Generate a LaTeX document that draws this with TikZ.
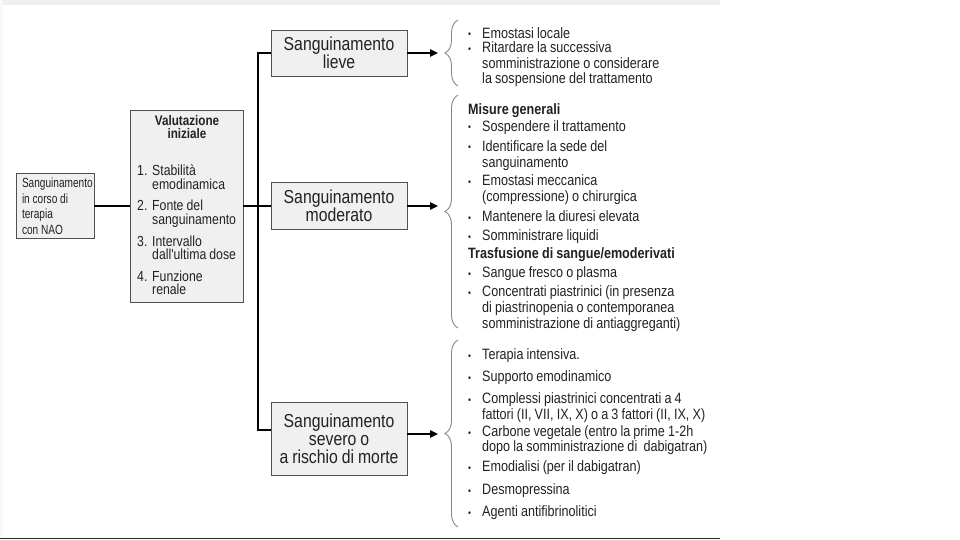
\documentclass[tikz,border=0pt]{standalone}
\usepackage{fontspec}
\setmainfont{Liberation Sans}
\newfontfamily\sq[FakeStretch=0.84,WordSpace=0.9]{Liberation Sans}
\newfontfamily\sqq[FakeStretch=0.76]{Liberation Sans}
\usetikzlibrary{arrows.meta,decorations.pathreplacing}
\definecolor{boxfill}{HTML}{F0F0F0}
\definecolor{boxdraw}{HTML}{505050}
\definecolor{txt}{HTML}{222222}
\definecolor{bracec}{HTML}{858585}
\newcommand{\sbul}{\makebox[14pt][l]{\raisebox{0.5pt}{\fontsize{10}{10}\selectfont\textbullet}}}
\newcommand{\ind}{\hspace*{14pt}}
\newcommand{\nind}{\hspace*{15pt}}
\newcommand{\nm}[1]{\makebox[15pt][l]{#1}}
\newcommand{\sps}{\hspace{2.8pt}}
\begin{document}
\begin{tikzpicture}[x=1pt,y=-1pt,
  box/.style={draw=boxdraw, fill=boxfill, line width=0.9pt, inner sep=0pt, text=txt},
  midbox/.style={box, minimum width=136pt, align=center, font=\sq\fontsize{18.8}{18}\selectfont},
  bus/.style={line width=2.4pt, black},
  arr/.style={line width=1.5pt, black, -{Triangle[length=8pt,width=7.5pt]}},
  brc/.style={draw=bracec, line width=0.9pt, decorate, decoration={brace, amplitude=13pt}},
  lst/.style={anchor=base west, align=left, inner sep=0pt, text=txt, font=\sq\fontsize{15}{16}\selectfont},
  vtxt/.style={anchor=base west, align=left, inner sep=0pt, text=txt, font=\sq\fontsize{14.6}{13.5}\selectfont},
]
\useasboundingbox (0,0) rectangle (960,540);
\fill[gray!12] (0,0) rectangle (720,5);
\fill[gray!5] (0,0) rectangle (3,536);
\draw[line width=1.2pt, black!85] (0,538.5) -- (720,538.5);

% left boxes
\node[box, minimum width=78pt, minimum height=65pt, text width=66pt, inner xsep=6pt, align=left,
      font=\sqq\fontsize{13.3}{15.5}\selectfont] (nao) at (55,206)
  {Sanguinamento\\in\sps corso\sps di\\terapia\\con\sps NAO};
\node[box, minimum width=113pt, minimum height=192pt] (val) at (186.5,206) {};
\node[anchor=base, align=center, inner sep=0pt, text=txt, font=\sq\bfseries\fontsize{13.9}{13}\selectfont]
  (valt) at (187,139) {Valutazione\\iniziale};
\node[vtxt] (v1) at (137,189.5) {\nm{1.}Stabilità\\\nind emodinamica};
\node[vtxt] (v2) at (137,224) {\nm{2.}Fonte del\\\nind sanguinamento};
\node[vtxt] (v3) at (137,259.5) {\nm{3.}Intervallo\\\nind dall'ultima dose};
\node[vtxt] (v4) at (137,294.5) {\nm{4.}Funzione\\\nind renale};

% middle boxes
\node[midbox, minimum height=46pt] (lieve) at (339,53) {Sanguinamento\\lieve};
\node[midbox, minimum height=47pt] (mod) at (339,206) {Sanguinamento\\moderato};
\node[midbox, minimum height=73pt] (sev) at (339,438.5) {Sanguinamento\\severo o\\a rischio di morte};

% connectors
\coordinate (bt) at (258,53);
\coordinate (bb) at (258,430);
\draw[bus] (nao.east) -- (val.west);
\draw[bus] (val.east) -- (mod.west);
\draw[bus] (lieve.west) -- (bt) -- (bb) -- (sev.west |- bb);

\coordinate (t1) at (438,53);
\coordinate (t2) at (438,206);
\coordinate (t3) at (438,434);
\draw[arr] (lieve.east |- t1) -- (t1);
\draw[arr] (mod.east |- t2) -- (t2);
\draw[arr] (sev.east |- t3) -- (t3);

% braces
\draw[brc] (458,86) -- (458,20);
\draw[brc] (458,328) -- (458,95);
\draw[brc] (458,527) -- (458,340);

% list 1 (base = last line)
\node[lst] (a1) at (468,38.5) {\sbul Emostasi locale};
\node[lst, font=\sq\fontsize{15}{15.2}\selectfont] (a2) at (468,83.4)
  {\sbul Ritardare la successiva\\\ind somministrazione o considerare\\\ind la sospensione del trattamento};

% list 2
\node[lst] (b0) at (468,114.5) {\textbf{Misure generali}};
\node[lst] (b1) at (468,131.5) {\sbul Sospendere il trattamento};
\node[lst] (b2) at (468,167.5) {\sbul Identificare la sede del\\\ind sanguinamento};
\node[lst] (b3) at (468,201.5) {\sbul Emostasi meccanica\\\ind (compressione) o chirurgica};
\node[lst] (b4) at (468,221.5) {\sbul Mantenere la diuresi elevata};
\node[lst] (b5) at (468,240.5) {\sbul Somministrare liquidi};
\node[lst] (b6) at (468,258.5) {\textbf{Trasfusione di sangue/emoderivati}};
\node[lst] (b7) at (468,277.5) {\sbul Sangue fresco o plasma};
\node[lst] (b8) at (468,328.5) {\sbul Concentrati piastrinici (in presenza\\\ind di piastrinopenia o contemporanea\\\ind somministrazione di antiaggreganti)};

% list 3
\node[lst] (c1) at (468,359.5) {\sbul Terapia intensiva.};
\node[lst] (c2) at (468,381.5) {\sbul Supporto emodinamico};
\node[lst] (c3) at (468,419.5) {\sbul Complessi piastrinici concentrati a 4\\\ind fattori (II, VII, IX, X) o a 3 fattori (II, IX, X)};
\node[lst, font=\sq\fontsize{15}{15.3}\selectfont] (c4) at (468,451.8) {\sbul Carbone vegetale (entro la prime 1-2h\\\ind dopo la somministrazione di\ \ dabigatran)};
\node[lst] (c5) at (468,471.5) {\sbul Emodialisi (per il dabigatran)};
\node[lst] (c6) at (468,494.5) {\sbul Desmopressina};
\node[lst] (c7) at (468,516.5) {\sbul Agenti antifibrinolitici};
\end{tikzpicture}
\end{document}
